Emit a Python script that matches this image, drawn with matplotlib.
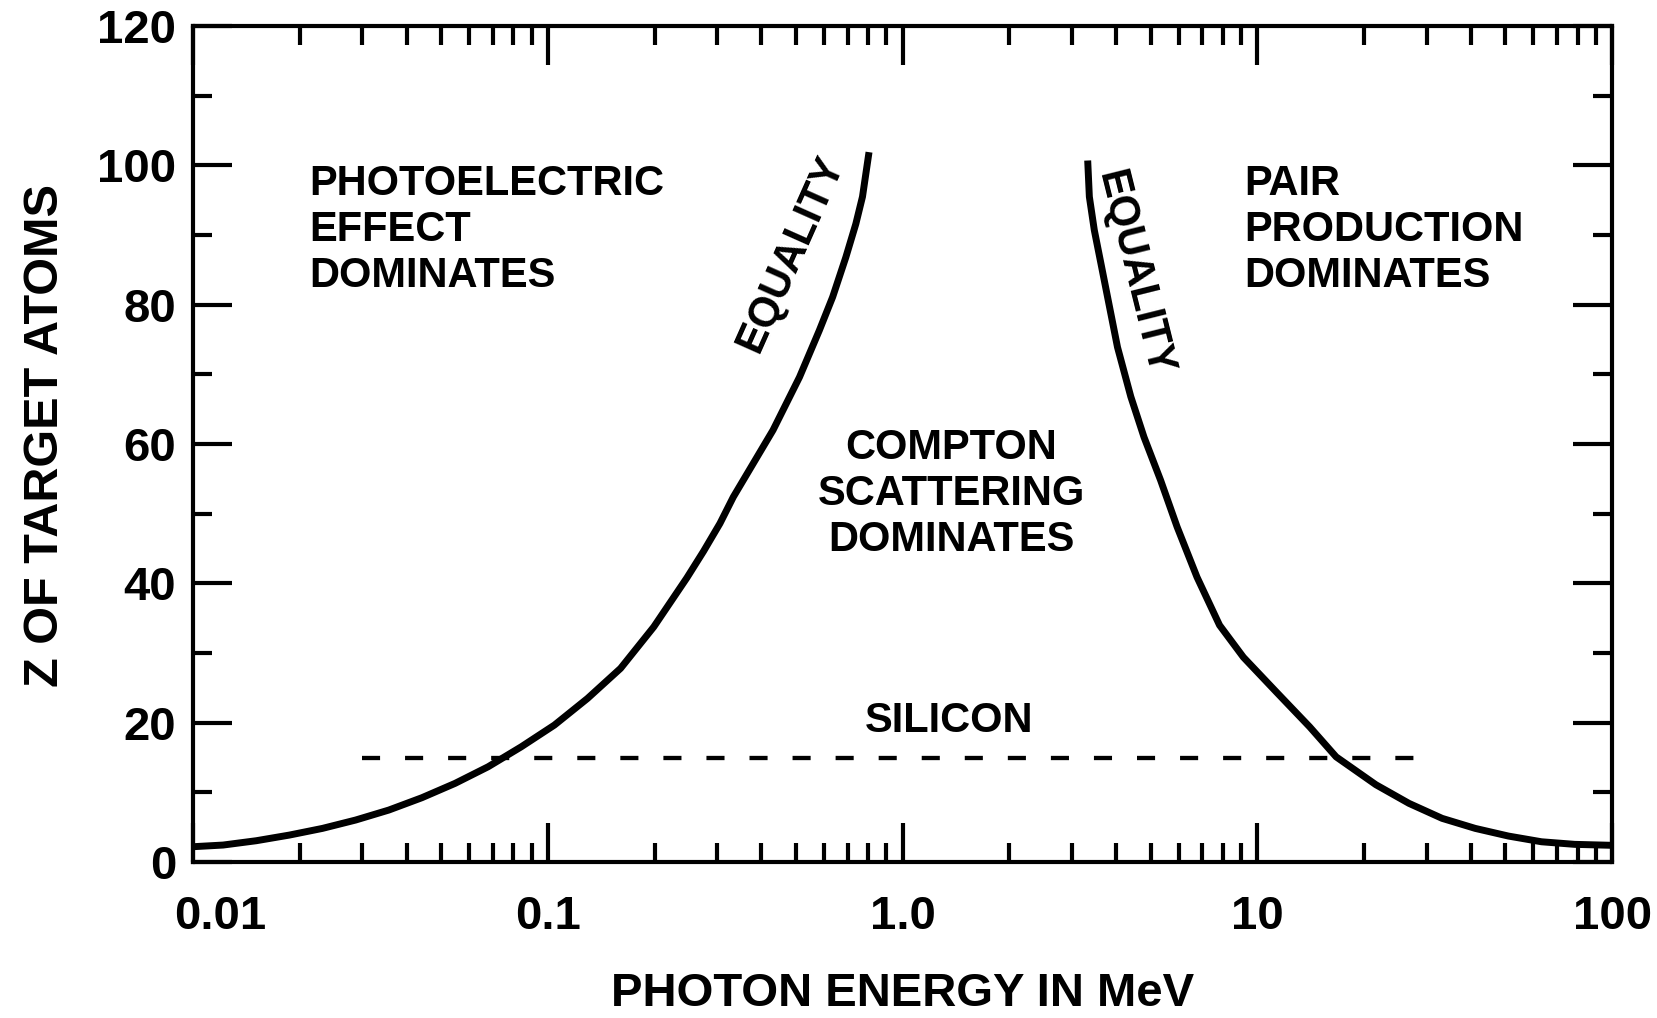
import matplotlib
matplotlib.use("Agg")
import matplotlib.pyplot as plt
from matplotlib.ticker import FixedLocator, MultipleLocator, NullFormatter, LogLocator
from matplotlib.transforms import ScaledTranslation

plt.rcParams['font.family'] = ['Liberation Sans', 'DejaVu Sans']
plt.rcParams['font.weight'] = 'bold'

# photoelectric / compton equality line
pe_energy = [0.01, 0.01216, 0.01508, 0.01869, 0.02317, 0.02874, 0.03563, 0.04416,
             0.05478, 0.06792, 0.08418, 0.1044, 0.1294, 0.1604, 0.199, 0.2467,
             0.2748, 0.3057, 0.3334, 0.3793, 0.4315, 0.5123, 0.5826, 0.6353,
             0.692, 0.7385, 0.7711, 0.8045]
pe_z = [2.2, 2.44, 3.06, 3.87, 4.83, 6.03, 7.46, 9.23,
        11.29, 13.68, 16.54, 19.66, 23.48, 27.8, 33.76, 40.8,
        44.6, 48.6, 52.4, 57.2, 62.0, 69.6, 76.3, 81.1,
        86.8, 91.6, 95.5, 101.9]

# compton / pair production equality line
pp_energy = [3.326, 3.362, 3.472, 3.625, 3.784, 4.036, 4.400, 4.793, 5.339,
             5.943, 6.761, 7.826, 9.137, 11.32, 14.05, 16.68, 21.59, 26.77,
             33.19, 41.14, 51.03, 63.25, 78.43, 100]
pp_z = [100.7, 95.5, 90.7, 85.9, 81.1, 73.9, 66.8, 61.0, 54.8,
        48.1, 40.9, 34.0, 29.4, 24.4, 19.4, 15.1, 11.1, 8.42,
        6.27, 4.83, 3.73, 2.91, 2.54, 2.4]

# silicon line
si_energy = [0.030, 30]
si_z = [15.0, 15.0]

x_ticks = [0.01, 0.1, 1, 10, 100]
x_labels = ["0.01", "0.1", "1.0", "10", "100"]
y_ticks = [0, 20, 40, 60, 80, 100, 120]

fig = plt.figure(figsize=(16.58, 10.18), dpi=100)
ax = fig.add_axes([0.1164, 0.1532, 0.8559, 0.8212])

ax.plot(pe_energy, pe_z, color="black", lw=5, solid_capstyle="butt", solid_joinstyle="round")
ax.plot(pp_energy, pp_z, color="black", lw=5, solid_capstyle="butt", solid_joinstyle="round")
ax.plot(si_energy, si_z, color="black", lw=3.1, dashes=(4.2, 5.8))

ax.set_xscale("log")
ax.set_xlim(0.01, 100)
ax.set_ylim(0, 120)

ax.xaxis.set_major_locator(FixedLocator(x_ticks))
ax.set_xticklabels(x_labels)
ax.xaxis.set_minor_locator(LogLocator(base=10, subs=range(2, 10)))
ax.xaxis.set_minor_formatter(NullFormatter())
ax.set_yticks(y_ticks)
ax.yaxis.set_minor_locator(MultipleLocator(10))

for s in ax.spines.values():
    s.set_linewidth(3)

ax.tick_params(which="major", direction="in", length=28, width=3,
               top=True, right=True, labelsize=34)
ax.tick_params(which="minor", direction="in", length=14, width=3,
               top=True, right=True)
ax.tick_params(axis="x", which="major", pad=24)
ax.tick_params(axis="y", which="major", pad=12)

# first x label sits a bit to the right in the original
fig.canvas.draw()
lbl = ax.get_xticklabels()[0]
lbl.set_transform(lbl.get_transform() + ScaledTranslation(0.27, 0, fig.dpi_scale_trans))

ax.set_xlabel("PHOTON ENERGY IN MeV", fontsize=34, fontweight="bold")
ax.xaxis.set_label_coords(0.5, -0.132)
ax.set_ylabel("Z OF TARGET ATOMS", fontsize=35, fontweight="bold")
ax.yaxis.set_label_coords(-0.088, 0.51)

txt = dict(fontsize=30, fontweight="bold", linespacing=1.2)
ax.text(0.0213, 90.7, "PHOTOELECTRIC\nEFFECT\nDOMINATES", ha="left", va="center", **txt)
ax.text(9.2, 90.7, "PAIR\nPRODUCTION\nDOMINATES", ha="left", va="center", **txt)
ax.text(1.37, 52.8, "COMPTON\nSCATTERING\nDOMINATES", ha="center", va="center",
        multialignment="center", **txt)
ax.text(1.35, 20.2, "SILICON", ha="center", va="center", **txt)
ax.text(0.485, 87.3, "EQUALITY", ha="center", va="center", rotation=66,
        rotation_mode="anchor", **txt)
ax.text(4.50, 84.5, "EQUALITY", ha="center", va="center", rotation=-76,
        rotation_mode="anchor", **txt)

fig.savefig("out.png", dpi=100)
